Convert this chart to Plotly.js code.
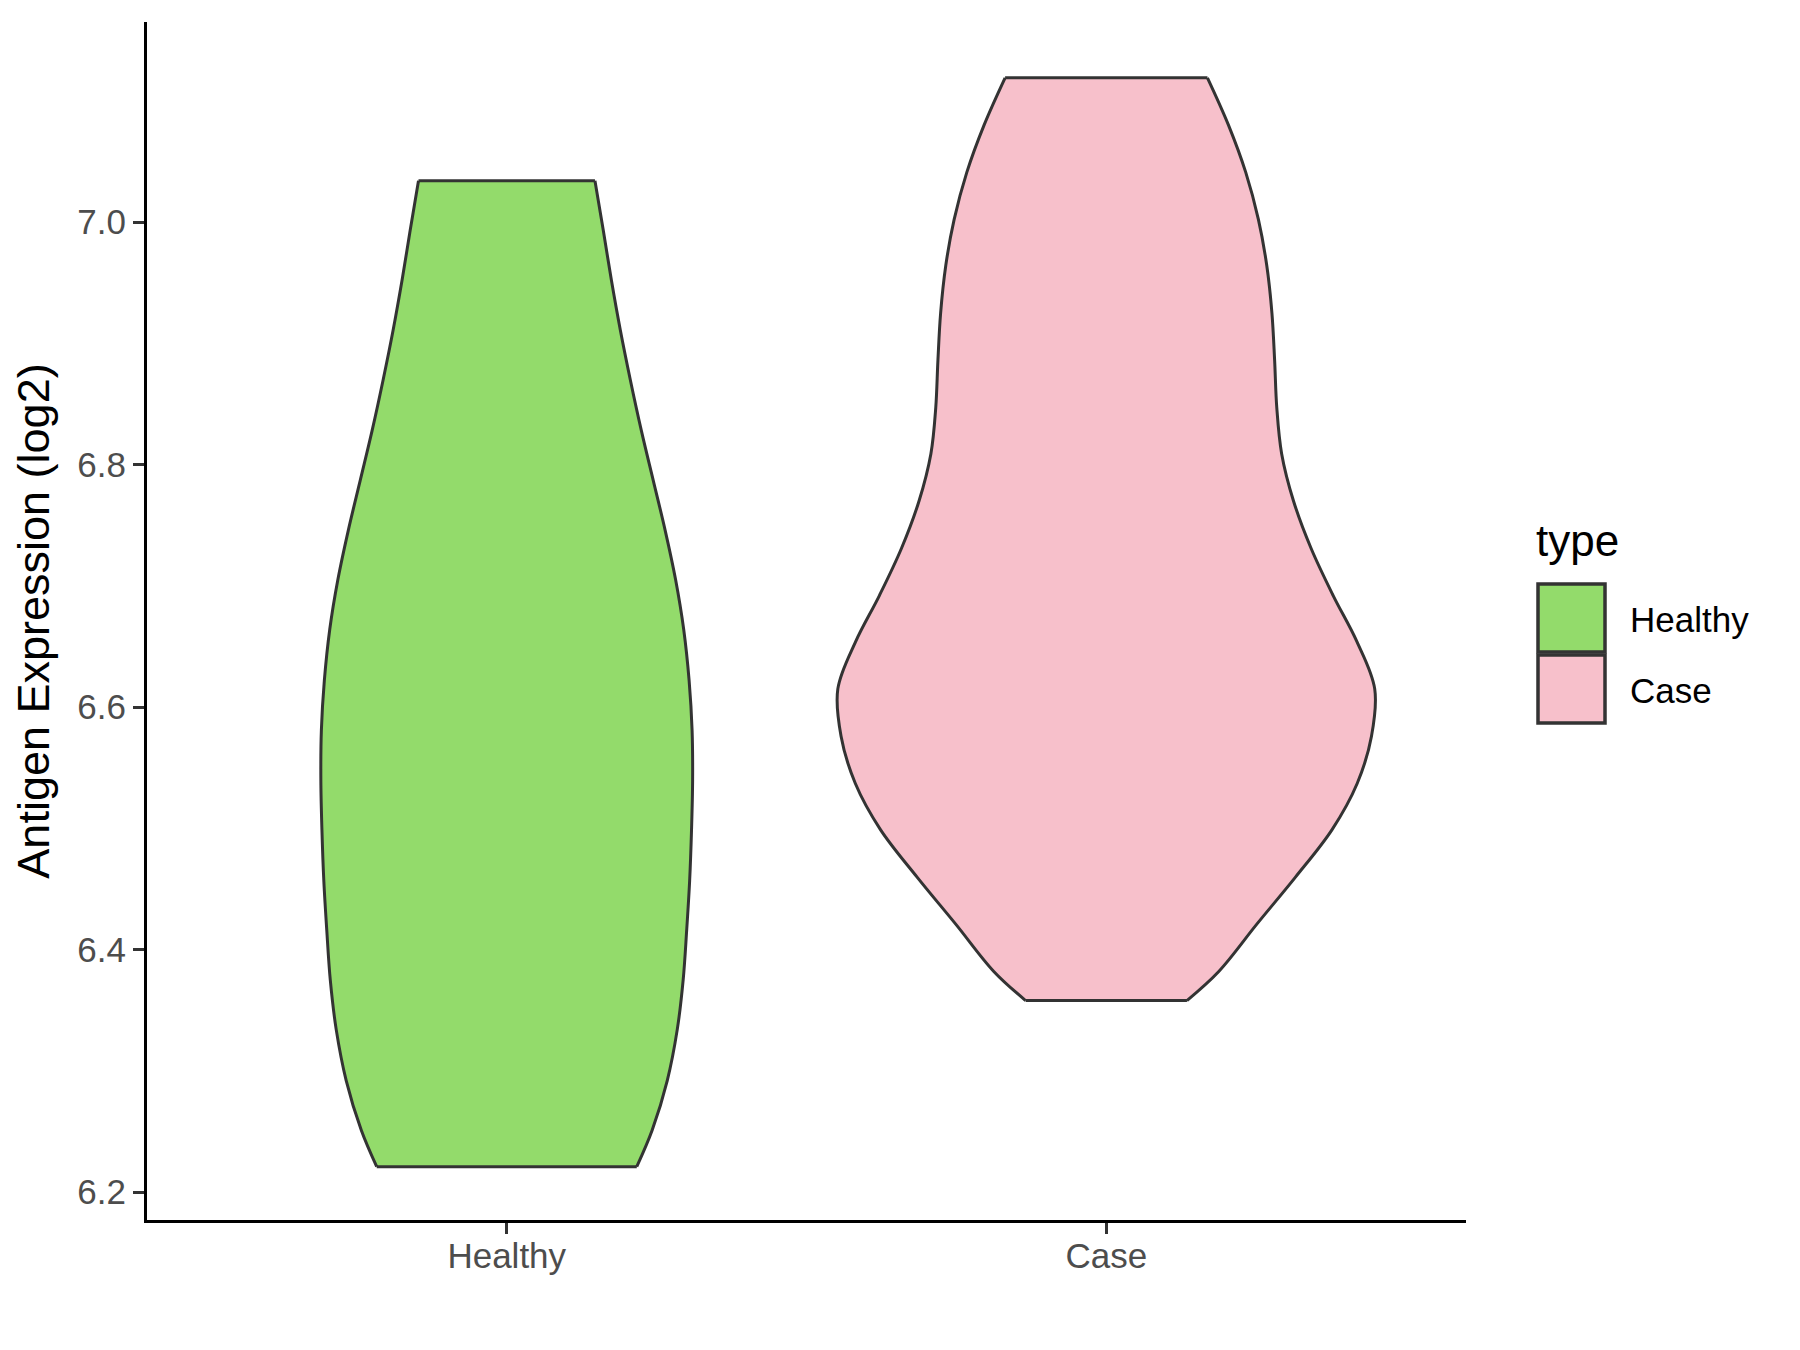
<!DOCTYPE html>
<html>
<head>
<meta charset="utf-8">
<script src="https://cdn.plot.ly/plotly-3.0.1.min.js"></script>
<style>html,body{margin:0;padding:0;background:#fff}</style>
</head>
<body>
<div id="chart" style="width:1800px;height:1350px"></div>
<script>
// ---- data ----
const categories = ['Healthy', 'Case'];
const fillColors = ['#93DB6B', '#F7C0CB'];
// estimated density profile (relative) along expression values, trimmed at data range
const healthyY = [7.034, 6.993, 6.952, 6.911, 6.870, 6.828, 6.787, 6.746, 6.705, 6.664, 6.622, 6.581, 6.540, 6.499, 6.457, 6.416, 6.375, 6.334, 6.292, 6.251, 6.221];
const healthyDensity = [0.327, 0.358, 0.388, 0.421, 0.458, 0.499, 0.543, 0.587, 0.626, 0.656, 0.676, 0.687, 0.689, 0.685, 0.678, 0.667, 0.654, 0.632, 0.595, 0.539, 0.482];
const caseY = [7.119, 7.080, 7.041, 7.002, 6.964, 6.925, 6.886, 6.847, 6.809, 6.770, 6.731, 6.692, 6.654, 6.615, 6.576, 6.537, 6.499, 6.460, 6.421, 6.382, 6.358];
const caseDensity = [0.375, 0.453, 0.517, 0.564, 0.595, 0.614, 0.624, 0.632, 0.650, 0.694, 0.759, 0.841, 0.929, 0.995, 0.983, 0.930, 0.837, 0.702, 0.558, 0.417, 0.299];
const yTickVals = [6.2, 6.4, 6.6, 6.8, 7.0];
const yTickText = ['6.2', '6.4', '6.6', '6.8', '7.0'];

const groupsY = [healthyY, caseY];
const groupsD = [healthyDensity, caseDensity];

// ---- drawing ----
const FONT = 'Liberation Sans, Arial, Helvetica, sans-serif';
const HALF = 0.45; // ggplot violin width 0.9
const OUT = '#333333';
const LW = 3;

const traces = [];
categories.forEach((cat, i) => {
  const pos = i + 1;
  const ys = groupsY[i];
  const ds = groupsD[i];
  const left = ds.map(d => pos - HALF * d);
  const right = ds.map(d => pos + HALF * d);
  traces.push({
    type: 'scatter', mode: 'lines', x: left, y: ys,
    line: {color: OUT, width: LW, shape: 'spline', smoothing: 1},
    showlegend: false, hoverinfo: 'skip'
  });
  traces.push({
    type: 'scatter', mode: 'lines', x: right, y: ys,
    line: {color: OUT, width: LW, shape: 'spline', smoothing: 1},
    fill: 'tonextx', fillcolor: fillColors[i],
    showlegend: false, hoverinfo: 'skip'
  });
  const n = ys.length - 1;
  traces.push({
    type: 'scatter', mode: 'lines',
    x: [left[0], right[0]], y: [ys[0], ys[0]],
    line: {color: OUT, width: LW}, showlegend: false, hoverinfo: 'skip'
  });
  traces.push({
    type: 'scatter', mode: 'lines',
    x: [left[n], right[n]], y: [ys[n], ys[n]],
    line: {color: OUT, width: LW}, showlegend: false, hoverinfo: 'skip'
  });
});

// layout geometry in pixels
const W = 1800, H = 1350;
const M = {l: 147, r: 334, t: 22, b: 130};
const PW = W - M.l - M.r, PH = H - M.t - M.b;
const px = x => (x - M.l) / PW;
const py = y => (H - M.b - y) / PH;

const shapes = [];
const annotations = [];
// manual legend (ggplot style)
annotations.push({
  xref: 'paper', yref: 'paper', x: px(1534), y: py(540),
  xanchor: 'left', yanchor: 'middle', showarrow: false,
  text: 'type', font: {family: FONT, size: 44, color: '#000000'}
});
const keyTop = [584, 655];
categories.forEach((cat, i) => {
  const y0 = keyTop[i], y1 = keyTop[i] + 68;
  shapes.push({
    type: 'rect', xref: 'paper', yref: 'paper',
    x0: px(1538), x1: px(1605), y0: py(y1), y1: py(y0),
    fillcolor: fillColors[i], line: {color: OUT, width: 3.5}
  });
  annotations.push({
    xref: 'paper', yref: 'paper', x: px(1628), y: py((y0 + y1) / 2 + 1),
    xanchor: 'left', yanchor: 'middle', showarrow: false,
    text: cat, font: {family: FONT, size: 35, color: '#000000'}
  });
});

const layout = {
  width: W, height: H,
  margin: M,
  paper_bgcolor: '#ffffff', plot_bgcolor: '#ffffff',
  showlegend: false,
  font: {family: FONT},
  xaxis: {
    range: [0.4, 2.6], tickvals: categories.map((c, i) => i + 1), ticktext: categories,
    showgrid: false, zeroline: false,
    showline: true, linecolor: '#000000', linewidth: 3,
    ticks: 'outside', ticklen: 11, tickwidth: 3, tickcolor: OUT,
    ticklabelstandoff: -8,
    tickfont: {family: FONT, size: 35, color: '#4D4D4D'},
    fixedrange: true
  },
  yaxis: {
    range: [6.177, 7.165], tickvals: yTickVals, ticktext: yTickText,
    showgrid: false, zeroline: false,
    showline: true, linecolor: '#000000', linewidth: 3,
    ticks: 'outside', ticklen: 11, tickwidth: 3, tickcolor: OUT,
    tickfont: {family: FONT, size: 35, color: '#4D4D4D'},
    title: {text: 'Antigen Expression (log2)', font: {family: FONT, size: 45, color: '#000000'}, standoff: 14},
    fixedrange: true
  },
  shapes: shapes,
  annotations: annotations
};

Plotly.newPlot('chart', traces, layout, {displayModeBar: false, staticPlot: true});
</script>
</body>
</html>
